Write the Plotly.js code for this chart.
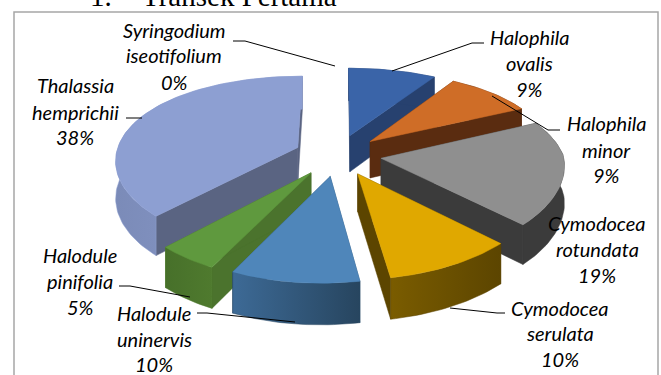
<!DOCTYPE html>
<html>
<head>
<meta charset="utf-8">
<script src="https://cdn.plot.ly/plotly-3.0.1.min.js"></script>
<style>html,body{margin:0;padding:0;background:#fff;overflow:hidden}#chart{width:661px;height:375px}</style>
</head>
<body>
<div id="chart"></div>
<script>
// Seagrass species composition, first transect (percent cover per species)
const speciesNames = [
  ["Halophila", "ovalis"],
  ["Halophila", "minor"],
  ["Cymodocea", "rotundata"],
  ["Cymodocea", "serulata"],
  ["Halodule", "uninervis"],
  ["Halodule", "pinifolia"],
  ["Thalassia", "hemprichii"],
  ["Syringodium", "iseotifolium"]
];
const percentages = [9, 9, 19, 10, 10, 5, 38, 0];

// Colours per species: top face, cut face, outer wall gradient left and right
const topColors  = ["#3a64a8", "#cf6d27", "#8f8f8f", "#e0a800", "#4f86ba", "#5f993e", "#8d9fd2", "#8d9fd2"];
const cutColors  = ["#27416f", "#5a2c10", "#3b3b3b", "#5c4500", "#2f5478", "#4b732d", "#5a6482", "#5a6482"];
const wallLeft   = ["#27416f", "#5a2c10", "#3b3b3b", "#7a5c00", "#3d6a96", "#47702a", "#7b8bb8", "#7b8bb8"];
const wallRight  = ["#27416f", "#5a2c10", "#3b3b3b", "#5c4500", "#27455f", "#4f7a2e", "#8d9ed0", "#8d9ed0"];

// Painter's order, back to front
const drawOrder = [0, 1, 2, 6, 5, 3, 4];

// Label centres and line positions, plus leader polylines
const labelX = [529, 606, 597, 560, 154, 80, 75, 174];
const labelY = [[37, 63, 89], [123, 150, 175], [223, 249, 275], [308, 333, 359],
                [313, 339, 364], [255, 281, 307], [85, 112, 137], [30, 55, 82]];
const leaderX = [[484, 472, 392], [560, 548, 492], [], [505, 497, 450], [197, 207, 295], [119, 130, 190], [126, 142], [233, 245, 335]];
const leaderY = [[43, 43, 71], [130, 130, 96], [], [313, 313, 308], [313, 313, 322], [286, 286, 297], [118, 118], [41, 41, 66]];

// Oblique view of the exploded pie
const view = {cx: 338, cy: 155, rx: 182, tilt: 87, bow: 13.4, perspFront: 0.07, perspBack: 0.13, skew: 14, depth: 37, depthGrow: 0.1, explode: 0.24, startDeg: 0};

function project(px, py, drop) {
  const sx = 1 / (1 - (py > 0 ? view.perspFront : view.perspBack) * py);
  // Near the viewer the left side of the disc leans further left than the right side
  const lean = Math.min(1, Math.max(0, 0.65 * (1 - px)));
  return [
    view.cx + view.rx * px * sx - view.skew * lean * Math.max(py, 0),
    view.cy + view.tilt * py + view.bow * py * py + drop * (1 + view.depthGrow * py)
  ];
}

const total = percentages.reduce((a, b) => a + b, 0);
const startAngles = [];
percentages.reduce((acc, v, i) => { startAngles[i] = acc; return acc + v / total * 360; }, view.startDeg);

function polygon(points, color, gradient) {
  const trace = {
    type: "scatter", mode: "lines", hoverinfo: "skip", showlegend: false,
    x: points.map(p => p[0]), y: points.map(p => p[1]),
    fill: "toself", line: {width: 0.5, color: color}, fillcolor: color
  };
  if (gradient) {
    trace.fillgradient = {type: "horizontal", colorscale: [[0, gradient[0]], [1, gradient[1]]]};
  }
  return trace;
}

function sliceTraces(i) {
  const a0 = startAngles[i] * Math.PI / 180;
  const a1 = a0 + percentages[i] / total * 2 * Math.PI;
  const am = (a0 + a1) / 2;
  const ox = view.explode * Math.sin(am), oy = -view.explode * Math.cos(am);
  const rim = drop => {
    const pts = [];
    const steps = Math.max(6, Math.round((a1 - a0) * 40));
    for (let k = 0; k <= steps; k++) {
      const a = a0 + (a1 - a0) * k / steps;
      pts.push(project(ox + Math.sin(a), oy - Math.cos(a), drop));
    }
    return pts;
  };
  const apexTop = project(ox, oy, 0), apexLow = project(ox, oy, view.depth);
  const top = rim(0), low = rim(view.depth);
  return [
    polygon([apexTop, top[0], low[0], apexLow, apexTop], cutColors[i]),
    polygon([apexTop, top[top.length - 1], low[low.length - 1], apexLow, apexTop], cutColors[i]),
    polygon(top.concat(low.slice().reverse(), [top[0]]), wallRight[i], [wallLeft[i], wallRight[i]]),
    polygon([apexTop].concat(top, [apexTop]), topColors[i])
  ];
}

const traces = [];
drawOrder.forEach(i => traces.push(...sliceTraces(i)));
leaderX.forEach((xs, i) => {
  if (xs.length) {
    traces.push({type: "scatter", mode: "lines", hoverinfo: "skip", showlegend: false,
      x: xs, y: leaderY[i], line: {color: "#000", width: 1}});
  }
});

const labelFont = {family: "Lato, sans-serif", size: 20, color: "#000", style: "italic"};
const annotations = [];
speciesNames.forEach((lines, i) => {
  const rows = lines.concat([percentages[i] + "%"]);
  rows.forEach((text, r) => annotations.push({
    text: text, x: labelX[i], y: labelY[i][r], xref: "x", yref: "y", borderpad: 0,
    showarrow: false, xanchor: "center", yanchor: "middle", font: labelFont
  }));
});
// Section heading sitting above the chart frame
const headingFont = {family: "Liberation Serif, serif", size: 29, color: "#000"};
annotations.push({text: "1.", x: 89, y: 13, xref: "x", yref: "y", showarrow: false, borderpad: 0,
  xanchor: "left", yanchor: "bottom", font: headingFont});
annotations.push({text: "Transek Pertama", x: 141, y: 13, xref: "x", yref: "y", showarrow: false, borderpad: 0,
  xanchor: "left", yanchor: "bottom", font: headingFont});

const layout = {
  width: 661, height: 375,
  margin: {l: 0, r: 0, t: 0, b: 0},
  paper_bgcolor: "#fff", plot_bgcolor: "#fff",
  showlegend: false, hovermode: false,
  xaxis: {range: [0, 661], visible: false, fixedrange: true},
  yaxis: {range: [375, 0], visible: false, fixedrange: true},
  shapes: [{type: "rect", xref: "x", yref: "y", x0: 14, x1: 658, y0: 12, y1: 390,
    line: {color: "#a6a6a6", width: 1.5}, fillcolor: "rgba(0,0,0,0)", layer: "below"}],
  annotations: annotations
};

Plotly.newPlot("chart", traces, layout, {displayModeBar: false, staticPlot: true});
</script>
</body>
</html>
